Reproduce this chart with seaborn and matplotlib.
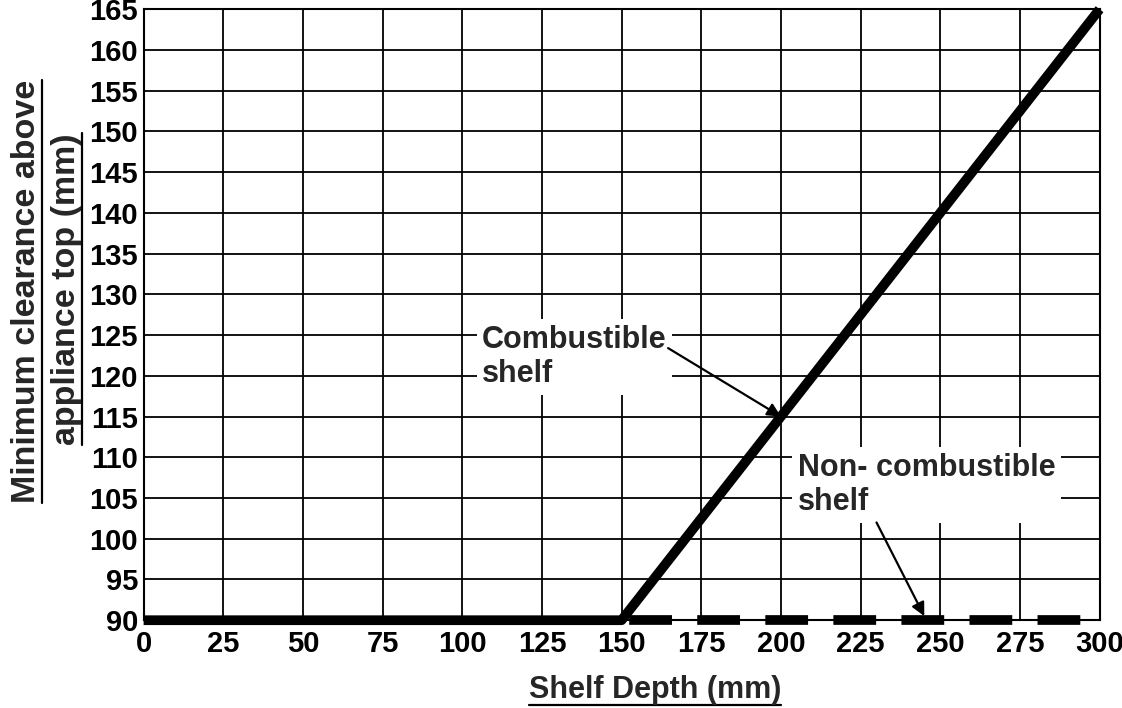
import matplotlib
matplotlib.use("Agg")
import matplotlib.pyplot as plt
from matplotlib.lines import Line2D
import seaborn as sns

# ---------- data ----------
depth_comb = [0, 150, 300]
clearance_comb = [90, 90, 165]
depth_noncomb = [150, 300]
clearance_noncomb = [90, 90]
x_ticks = list(range(0, 301, 25))
y_ticks = list(range(90, 166, 5))

# ---------- style ----------
sns.set_style("white")
plt.rcParams["font.family"] = ["Liberation Sans", "DejaVu Sans"]
plt.rcParams["font.weight"] = "bold"

fig = plt.figure(figsize=(11.22, 7.08), dpi=100)
ax = fig.add_axes([0.128, 0.124, 0.852, 0.863])

sns.lineplot(x=depth_comb, y=clearance_comb, ax=ax, color="black", lw=7,
             sort=False, estimator=None, clip_on=False, solid_capstyle="butt", zorder=5)
sns.lineplot(x=depth_noncomb, y=clearance_noncomb, ax=ax, color="black", lw=7,
             sort=False, estimator=None, clip_on=False, zorder=5,
             linestyle=(6.26, (4.4, 2.6)), dash_capstyle="butt")

ax.set_xlim(0, 300)
ax.set_ylim(90, 165)
ax.set_xticks(x_ticks)
ax.set_yticks(y_ticks)
ax.tick_params(length=0, labelsize=21, colors="black")
ax.tick_params(axis="x", pad=7)
ax.tick_params(axis="y", pad=4)
for lab in ax.get_xticklabels() + ax.get_yticklabels():
    lab.set_fontweight("bold")
ax.grid(True, color="black", lw=1.3)
for sp in ax.spines.values():
    sp.set_color("black")
    sp.set_linewidth(1.5)
    sp.set_visible(True)

# annotations
box = dict(facecolor="white", edgecolor="none", pad=4)
ax.text(106.2, 122.3, "Combustible\nshelf", ha="left", va="center",
        fontsize=22, fontweight="bold", bbox=box, zorder=4)
ax.text(205.3, 106.6, "Non- combustible\nshelf", ha="left", va="center",
        fontsize=22, fontweight="bold", bbox=box, zorder=4)
arrow = dict(arrowstyle="-|>,head_length=0.4,head_width=0.2", mutation_scale=20,
             lw=1.6, color="black", shrinkA=0, shrinkB=0)
ax.annotate("", xy=(200, 115), xytext=(164.6, 123.4), arrowprops=arrow, zorder=6)
ax.annotate("", xy=(245, 90.5), xytext=(230, 102), arrowprops=arrow, zorder=6)

# axis labels (underlined)
xl = fig.text(0.584, 0.025, "Shelf Depth (mm)", ha="center", va="center",
              fontsize=22, fontweight="bold")
yl1 = fig.text(0.024, 0.588, "Minimum clearance above", ha="center", va="center",
               rotation=90, fontsize=24.5, fontweight="bold")
yl2 = fig.text(0.059, 0.592, "appliance top (mm)", ha="center", va="center",
               rotation=90, fontsize=24.5, fontweight="bold")

fig.canvas.draw()
rend = fig.canvas.get_renderer()
inv = fig.transFigure.inverted()


def underline(txt, vertical=False):
    bb = txt.get_window_extent(rend)
    (x0, y0), (x1, y1) = inv.transform([(bb.x0, bb.y0), (bb.x1, bb.y1)])
    if vertical:
        fig.add_artist(Line2D([x1, x1], [y0, y1], transform=fig.transFigure,
                              color="black", lw=1.6))
    else:
        fig.add_artist(Line2D([x0, x1], [y0, y0], transform=fig.transFigure,
                              color="black", lw=1.6))


underline(xl)
underline(yl1, vertical=True)
underline(yl2, vertical=True)

fig.savefig("out.png", dpi=100, facecolor="white")
